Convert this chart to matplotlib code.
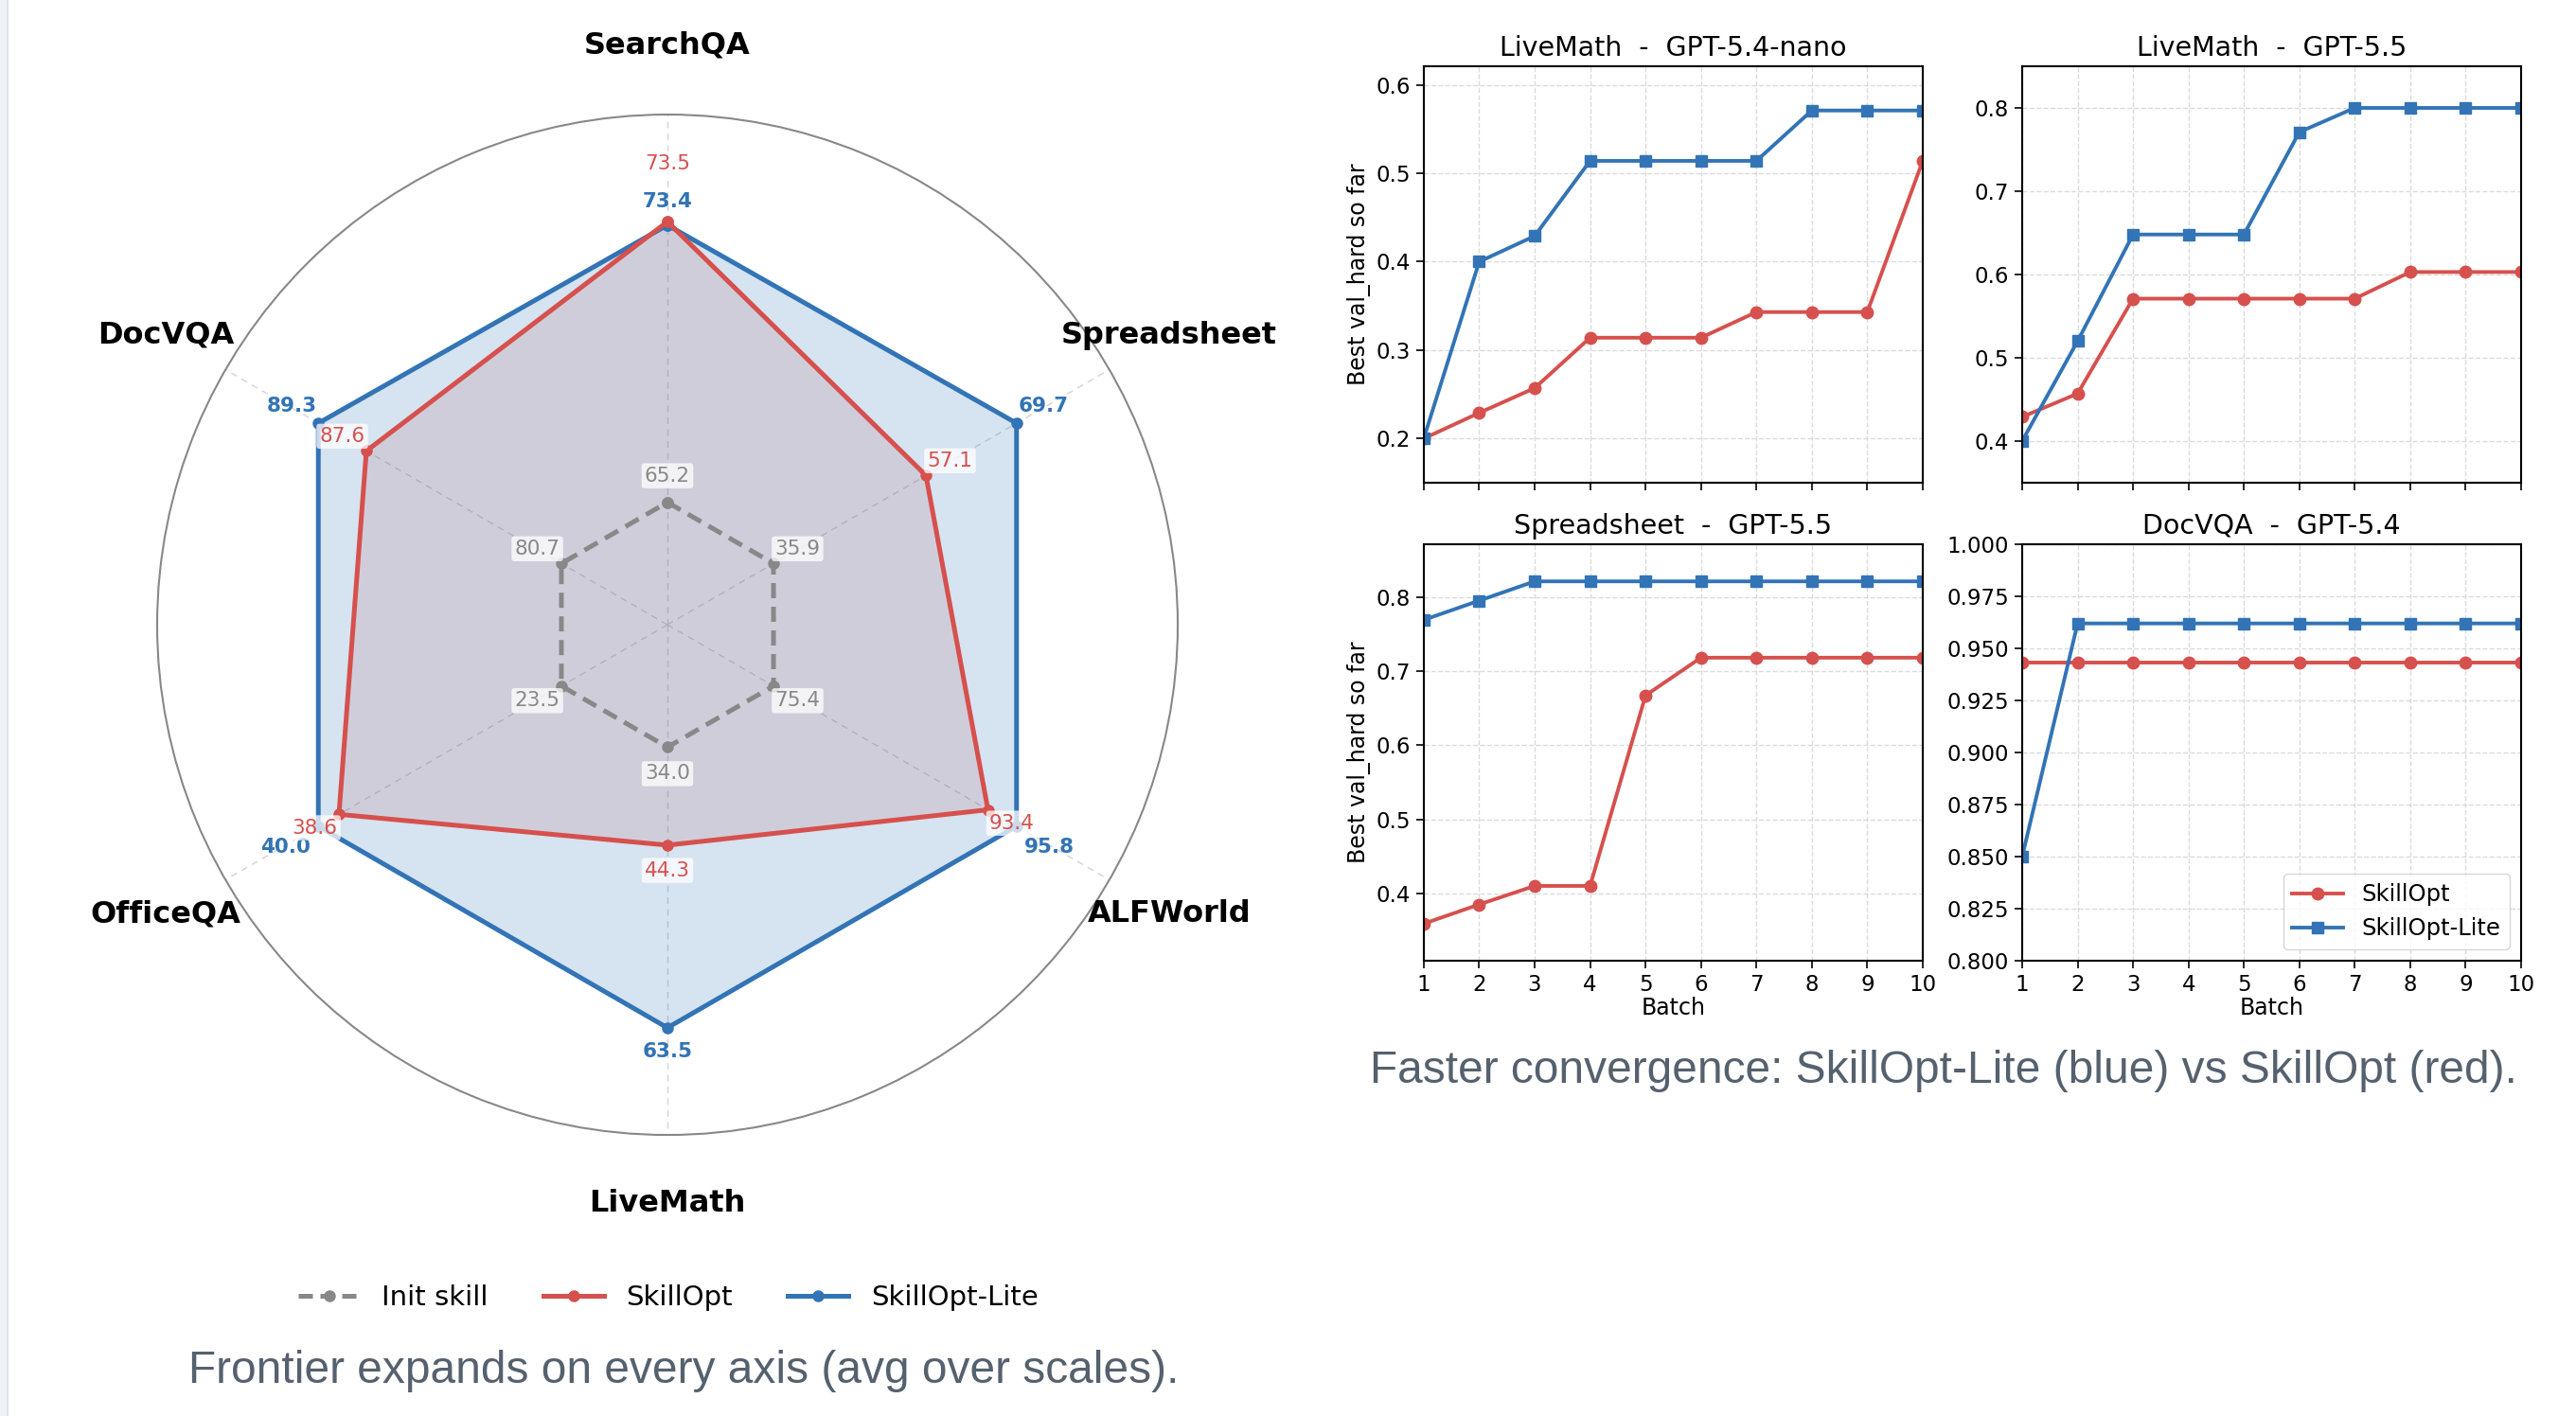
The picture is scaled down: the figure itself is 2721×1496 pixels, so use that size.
import numpy as np
import matplotlib
matplotlib.use("Agg")
import matplotlib.pyplot as plt
from matplotlib.lines import Line2D
from matplotlib.patches import Rectangle

# Радар: средние значения по доменам
domains = ["SearchQA", "Spreadsheet", "ALFWorld", "LiveMath", "OfficeQA", "DocVQA"]
init_skill = [65.2, 35.9, 75.4, 34.0, 23.5, 80.7]
skillopt = [73.5, 57.1, 93.4, 44.3, 38.6, 87.6]
skillopt_lite = [73.4, 69.7, 95.8, 63.5, 40.0, 89.3]

# Кривые сходимости
batches = [1, 2, 3, 4, 5, 6, 7, 8, 9, 10]
panel_titles = ["LiveMath  -  GPT-5.4-nano", "LiveMath  -  GPT-5.5",
                "Spreadsheet  -  GPT-5.5", "DocVQA  -  GPT-5.4"]
so_curves = [
    [0.200, 0.229, 0.257, 0.314, 0.314, 0.314, 0.343, 0.343, 0.343, 0.514],
    [0.429, 0.457, 0.571, 0.571, 0.571, 0.571, 0.571, 0.603, 0.603, 0.603],
    [0.359, 0.385, 0.410, 0.410, 0.667, 0.718, 0.718, 0.718, 0.718, 0.718],
    [0.943, 0.943, 0.943, 0.943, 0.943, 0.943, 0.943, 0.943, 0.943, 0.943],
]
lite_curves = [
    [0.200, 0.400, 0.429, 0.514, 0.514, 0.514, 0.514, 0.571, 0.571, 0.571],
    [0.400, 0.520, 0.648, 0.648, 0.648, 0.771, 0.800, 0.800, 0.800, 0.800],
    [0.769, 0.795, 0.821, 0.821, 0.821, 0.821, 0.821, 0.821, 0.821, 0.821],
    [0.850, 0.962, 0.962, 0.962, 0.962, 0.962, 0.962, 0.962, 0.962, 0.962],
]

RED = "#d6504d"
BLUE = "#3274b5"
GREY = "#888888"
CAPTION = "#55616e"

fig = plt.figure(figsize=(27.21, 14.96), dpi=100)
fig.patch.set_facecolor("white")

# полоска страницы слева
fig.patches.append(Rectangle((0, 0), 7 / 2721, 1, transform=fig.transFigure,
                             facecolor="#eef3f8", edgecolor="none", zorder=-5))
fig.patches.append(Rectangle((7 / 2721, 0), 1.5 / 2721, 1, transform=fig.transFigure,
                             facecolor="#dde5ee", edgecolor="none", zorder=-5))

# ---------- радар ----------
ax = fig.add_axes([0.0610, 0.1985, 0.3962, 0.7206], projection="polar")
ax.set_theta_offset(np.pi / 2)
ax.set_theta_direction(-1)
n = len(domains)
angles = np.linspace(0, 2 * np.pi, n, endpoint=False)

init_a = np.array(init_skill)
so_a = np.array(skillopt)
lite_a = np.array(skillopt_lite)
lo = np.minimum(np.minimum(init_a, so_a), lite_a)
hi = np.maximum(np.maximum(init_a, so_a), lite_a)


def scale(v):
    return 0.24 + 0.55 * (v - lo) / (hi - lo)


r_init = scale(init_a)
r_so = scale(so_a)
r_lite = scale(lite_a)

ang_c = np.append(angles, angles[0])


def closed(r):
    return np.append(r, r[0])


ax.fill(ang_c, closed(r_so), color=RED, alpha=0.15, zorder=1)
ax.fill(ang_c, closed(r_lite), color=BLUE, alpha=0.2, zorder=2)
ax.plot(ang_c, closed(r_lite), color=BLUE, lw=3.6, marker="o", ms=8, zorder=4)
ax.plot(ang_c, closed(r_so), color=RED, lw=3.6, marker="o", ms=8, zorder=5)
ax.plot(ang_c, closed(r_init), color=GREY, lw=3.6, ls=(0, (3.2, 1.8)),
        marker="o", ms=8, zorder=6)

ax.set_ylim(0, 1)
ax.set_yticks([])
ax.set_xticks([])
ax.grid(False)
for a in angles:
    ax.plot([a, a], [0, 1], color="#d4d4d4", lw=1.0, ls=(0, (5, 4)), zorder=0)
ax.spines["polar"].set_color(GREY)
ax.spines["polar"].set_linewidth(1.5)


def put_label(a, r, txt, color, weight, dv, box, up=(1, 5), down=(1, 5)):
    x, y = np.sin(a), np.cos(a)
    if abs(x) < 0.1:
        ha = "center"
        va = "bottom" if y > 0 else "top"
        off = (0, dv if y > 0 else -dv)
    else:
        ha = "left" if x > 0 else "right"
        va = "bottom" if y > 0 else "top"
        sx, sy = up if y > 0 else down
        off = (sx if x > 0 else -sx, sy if y > 0 else -sy)
    kw = {}
    if box:
        kw["bbox"] = dict(boxstyle="round,pad=0.15", facecolor="white",
                          edgecolor="none", alpha=0.75)
    ax.annotate(txt, (a, r), xytext=off, textcoords="offset points", ha=ha, va=va,
                fontsize=15.5, color=color, fontweight=weight, zorder=8, **kw)


for i, a in enumerate(angles):
    ax.text(a, 1.135, domains[i], ha="center", va="center",
            fontsize=23, fontweight="bold", color="black")
    put_label(a, r_lite[i], f"{skillopt_lite[i]:.1f}", BLUE, "bold", 11, False,
              up=(1, 6), down=(6, 8.5))
    dv = 37 if abs(r_so[i] - r_lite[i]) < 0.03 else 12
    put_label(a, r_so[i], f"{skillopt[i]:.1f}", RED, "normal", dv, True,
              up=(1, 4), down=(1, 3))
    put_label(a, r_init[i], f"{init_skill[i]:.1f}", GREY, "normal", 13, True,
              up=(1, 4), down=(1, 4))

handles = [
    Line2D([], [], color=GREY, lw=3.6, ls=(0, (3, 1.6)), marker="o", ms=8),
    Line2D([], [], color=RED, lw=3.6, marker="o", ms=8),
    Line2D([], [], color=BLUE, lw=3.6, marker="o", ms=8),
]
fig.legend(handles, ["Init skill", "SkillOpt", "SkillOpt-Lite"], loc="center",
           bbox_to_anchor=(706 / 2721, 0.0835), ncol=3, frameon=False,
           fontsize=21, handlelength=2.2, columnspacing=2.0)

fig.text(722 / 2721, 0.0315, "Frontier expands on every axis (avg over scales).",
         ha="center", va="center", fontsize=34.5, color=CAPTION,
         family=["Liberation Sans", "DejaVu Sans"])

# ---------- кривые ----------
positions = [
    [0.5527, 0.6591, 0.1937, 0.2941],
    [0.7850, 0.6591, 0.1937, 0.2941],
    [0.5527, 0.3215, 0.1937, 0.2941],
    [0.7850, 0.3215, 0.1937, 0.2941],
]

for k in range(4):
    a2 = fig.add_axes(positions[k])
    a2.plot(batches, so_curves[k], color=RED, lw=2.8, marker="o", ms=9, label="SkillOpt")
    a2.plot(batches, lite_curves[k], color=BLUE, lw=2.8, marker="s", ms=9,
            label="SkillOpt-Lite")
    a2.set_xlim(1, 10)
    a2.set_xticks(batches)
    if k == 3:
        a2.set_ylim(0.8, 1.0)
        a2.set_yticks(np.arange(0.8, 1.001, 0.025))
        a2.yaxis.set_major_formatter(matplotlib.ticker.FormatStrFormatter("%.3f"))
    else:
        vals = so_curves[k] + lite_curves[k]
        a2.set_ylim(min(vals) - 0.05, max(vals) + 0.05)
        a2.yaxis.set_major_locator(matplotlib.ticker.MultipleLocator(0.1))
    a2.set_title(panel_titles[k], fontsize=20.5, pad=8)
    a2.grid(True, ls="--", color="#cccccc", lw=1.0, alpha=0.7)
    a2.tick_params(labelsize=16.5, length=6, width=1.2, pad=4)
    for s in a2.spines.values():
        s.set_linewidth(1.5)
    if k < 2:
        a2.tick_params(labelbottom=False)
    else:
        a2.set_xlabel("Batch", fontsize=17, labelpad=1)
    if k % 2 == 0:
        a2.set_ylabel("Best val_hard so far", fontsize=17)
    if k == 3:
        a2.legend(loc="lower right", fontsize=17.5, handlelength=2.2)

fig.text(2053 / 2721, 1 - 1131 / 1496,
         "Faster convergence: SkillOpt-Lite (blue) vs SkillOpt (red).",
         ha="center", va="center", fontsize=34.5, color=CAPTION,
         family=["Liberation Sans", "DejaVu Sans"])

fig.savefig("out.png", dpi=100, facecolor="white")
